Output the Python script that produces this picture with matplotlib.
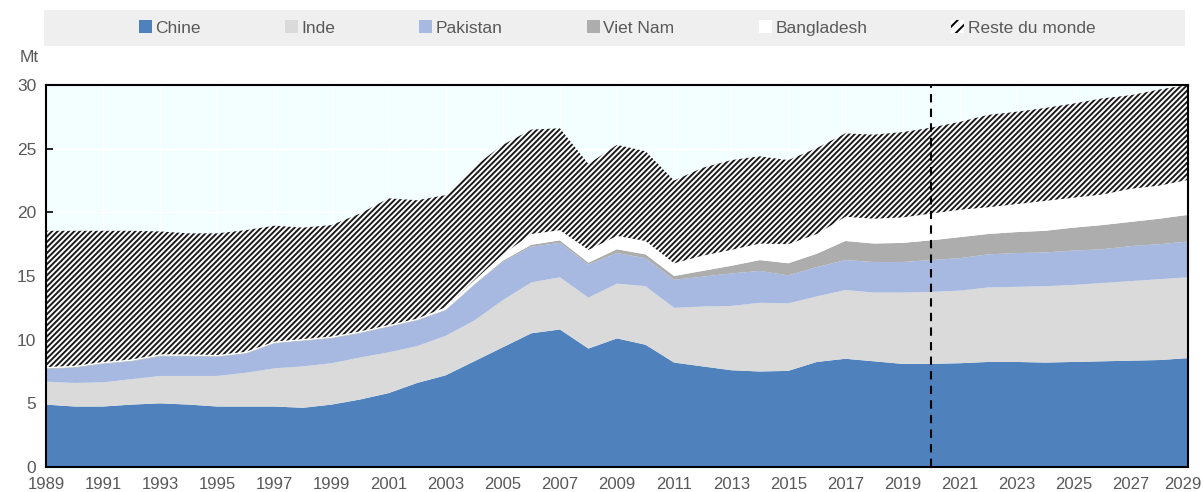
import matplotlib
matplotlib.use("Agg")
import matplotlib.pyplot as plt
import matplotlib.transforms as mtransforms
from matplotlib.patches import Patch, Rectangle
import numpy as np

plt.rcParams['font.family'] = ['Liberation Sans Narrow', 'Liberation Sans', 'DejaVu Sans']
plt.rcParams['hatch.linewidth'] = 1.4

years = list(range(1989, 2030))

chine = [4.9, 4.75, 4.75, 4.9, 5.0, 4.9, 4.75, 4.75, 4.75, 4.65, 4.9, 5.3, 5.8, 6.6, 7.2,
         8.3, 9.4, 10.5, 10.8, 9.3, 10.1, 9.6, 8.2, 7.9, 7.6, 7.5, 7.55, 8.25, 8.5, 8.3,
         8.1, 8.1, 8.15, 8.25, 8.25, 8.2, 8.25, 8.3, 8.35, 8.4, 8.55]
inde = [1.8, 1.85, 1.9, 2.0, 2.15, 2.25, 2.4, 2.65, 3.0, 3.25, 3.25, 3.3, 3.2, 2.9, 3.1,
        3.2, 3.7, 4.0, 4.1, 4.0, 4.3, 4.6, 4.3, 4.7, 5.05, 5.4, 5.3, 5.15, 5.4, 5.4,
        5.6, 5.65, 5.7, 5.85, 5.9, 6.0, 6.05, 6.15, 6.25, 6.35, 6.35]
pakistan = [1.0, 1.2, 1.45, 1.4, 1.55, 1.55, 1.5, 1.5, 1.95, 2.0, 1.95, 1.9, 2.0, 2.0, 2.0,
            2.8, 3.0, 2.8, 2.7, 2.6, 2.4, 2.2, 2.2, 2.35, 2.55, 2.5, 2.2, 2.3, 2.35, 2.4,
            2.4, 2.5, 2.55, 2.6, 2.65, 2.65, 2.7, 2.65, 2.75, 2.75, 2.8]
viet_nam = [0.05, 0.05, 0.05, 0.05, 0.05, 0.05, 0.05, 0.05, 0.05, 0.05, 0.05, 0.05, 0.05, 0.05, 0.05,
            0.05, 0.1, 0.15, 0.2, 0.15, 0.3, 0.3, 0.3, 0.45, 0.6, 0.85, 0.95, 1.05, 1.5, 1.45,
            1.5, 1.55, 1.65, 1.6, 1.65, 1.7, 1.8, 1.9, 1.9, 2.0, 2.1]
bangladesh = [0.1, 0.1, 0.1, 0.1, 0.1, 0.1, 0.1, 0.1, 0.1, 0.1, 0.1, 0.1, 0.1, 0.1, 0.2,
              0.3, 0.5, 0.85, 0.8, 1.0, 1.05, 1.05, 1.0, 1.2, 1.25, 1.3, 1.5, 1.55, 1.9, 1.95,
              2.0, 2.1, 2.15, 2.1, 2.2, 2.35, 2.35, 2.4, 2.6, 2.6, 2.75]
reste = [10.7, 10.6, 10.3, 10.1, 9.65, 9.5, 9.55, 9.55, 9.1, 8.75, 8.75, 9.25, 9.95, 9.3, 8.8,
         8.95, 8.6, 8.2, 8.0, 6.75, 7.15, 7.05, 6.5, 6.9, 7.05, 6.85, 6.6, 6.75, 6.55, 6.6,
         6.7, 6.75, 6.9, 7.25, 7.25, 7.3, 7.4, 7.55, 7.35, 7.55, 7.45]

labels = ['Chine', 'Inde', 'Pakistan', 'Viet Nam', 'Bangladesh', 'Reste du monde']
colors = ['#4F81BD', '#DADADA', '#A7B8E1', '#ADADAD', '#FFFFFF', '#FFFFFF']
proj_start = 2020

grey = '#595959'

fig = plt.figure(figsize=(12.04, 4.92), dpi=100)
ax = fig.add_axes([46 / 1204, 1 - 467 / 492, (1188 - 46) / 1204, (467 - 85) / 492])
ax.set_facecolor('#F2FEFF')

polys = ax.stackplot(years, chine, inde, pakistan, viet_nam, bangladesh, reste,
                     colors=colors, linewidth=0, zorder=2)
polys[-1].set_hatch('//////')
polys[-1].set_edgecolor('#1a1a1a')
polys[-1].set_linewidth(0)

ax.axvline(proj_start, color='black', linestyle=(0, (4, 3)), linewidth=1.5, zorder=3)

ax.set_xlim(1989, 2029)
ax.set_ylim(0, 30)
ax.set_xticks(range(1989, 2030, 2))
ax.set_yticks(range(0, 31, 5))
ax.grid(True, color='white', linewidth=1, zorder=0)
ax.set_axisbelow(True)
ax.tick_params(direction='in', length=5, width=1.2, colors='black', labelcolor=grey,
               labelsize=12.5)
ax.tick_params(axis='x', pad=7, labelsize=12)
ax.tick_params(axis='y', pad=7)
for s in ax.spines.values():
    s.set_linewidth(1.5)
    s.set_color('black')
    s.set_zorder(4)

# nudge the last year label so it stays inside the image
last = ax.get_xticklabels()[-1]
last.set_transform(last.get_transform() + mtransforms.ScaledTranslation(-5 / 100, 0, fig.dpi_scale_trans))

fig.text(20 / 1204, 1 - 58 / 492, 'Mt', color=grey, fontsize=12.5, ha='left', va='center')

# legend band
fig.patches.append(Rectangle((44 / 1204, 1 - 46 / 492), (1185 - 44) / 1204, 36 / 492,
                             transform=fig.transFigure, facecolor='#EFEFEF', edgecolor='none',
                             zorder=0))
handles = [Patch(facecolor=c, edgecolor='none') for c in colors[:-1]]
handles.append(Patch(facecolor='white', edgecolor='black', hatch='///', linewidth=0))
leg = fig.legend(handles, labels, loc='center', ncol=6, frameon=False,
                 bbox_to_anchor=(617 / 1204, 1 - 28 / 492), fontsize=12.5,
                 handlelength=0.75, handleheight=0.75, handletextpad=0.2,
                 columnspacing=4.85, labelcolor=grey)

fig.savefig('out.png', dpi=100)
